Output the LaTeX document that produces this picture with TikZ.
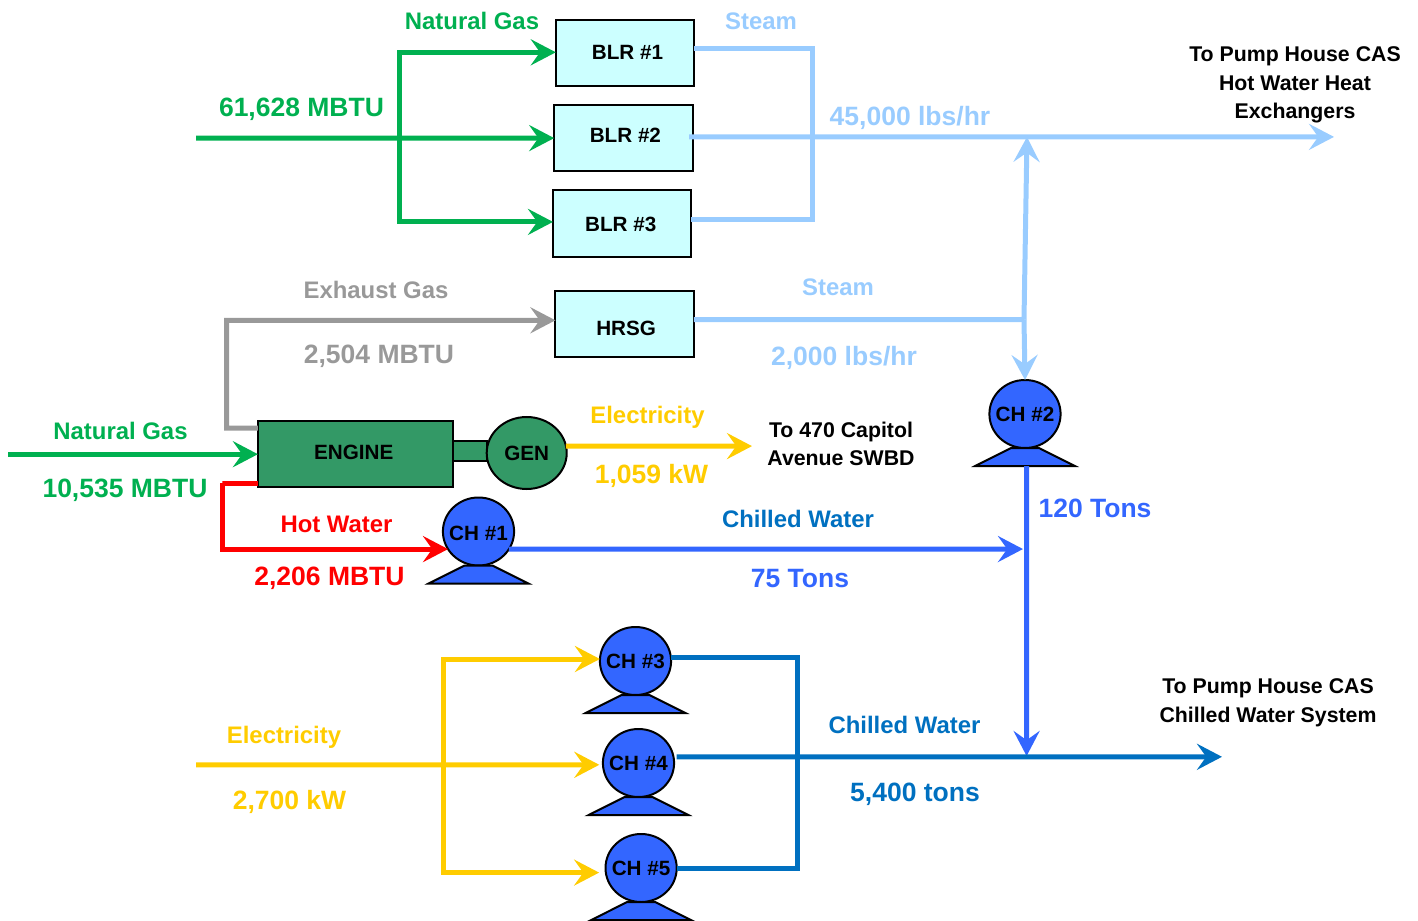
\documentclass[tikz,border=0pt]{standalone}
\usepackage{fontspec}
\setmainfont{Liberation Sans}
\usepackage{xcolor}
\usetikzlibrary{arrows.meta,positioning,shapes.geometric}
\definecolor{gasgreen}{HTML}{00B050}
\definecolor{steamblue}{HTML}{99CCFF}
\definecolor{exhgray}{HTML}{999999}
\definecolor{engfill}{HTML}{339966}
\definecolor{boxfill}{HTML}{CCFFFF}
\definecolor{chfill}{HTML}{3366FF}
\definecolor{chwdark}{HTML}{0070C0}
\definecolor{elecyellow}{HTML}{FFCC00}

\begin{document}
\begin{tikzpicture}[
  x=.25mm, y=-.25mm,
  box/.style={draw, line width=.5mm, fill=boxfill, outer sep=0pt, inner sep=0pt, minimum width=34.6mm, minimum height=16.6mm, font=\bfseries\fontsize{14.7}{16}\selectfont},
  engbox/.style={box, fill=engfill, minimum width=48.7mm},
  shaft/.style={draw, line width=.5mm, fill=engfill, outer sep=0pt, minimum width=8.5mm, minimum height=5mm},
  genball/.style={ellipse, draw, line width=.5mm, fill=engfill, outer sep=0pt, inner sep=0pt, minimum width=20mm, minimum height=18mm, font=\bfseries\fontsize{14.7}{16}\selectfont},
  chball/.style={ellipse, draw, line width=.5mm, fill=chfill, outer sep=0pt, inner sep=0pt, minimum width=17.8mm, minimum height=17mm, font=\bfseries\fontsize{14.7}{16}\selectfont},
  chbase/.style={trapezium, trapezium stretches=true, trapezium left angle=38, trapezium right angle=38, draw, line width=.5mm, fill=chfill, outer sep=0pt, inner sep=1pt, minimum width=24.9mm, minimum height=4.5mm},
  line/.style={line width=1.25mm},
  arr/.style={line, -{Stealth[length=6.25mm, width=6.5mm, inset=2.3mm]}},
  flow/.style={font=\bfseries\fontsize{17}{20}\selectfont},
  val/.style={font=\bfseries\fontsize{18.85}{22}\selectfont},
  dest/.style={align=center, font=\bfseries\fontsize{15.15}{20.4}\selectfont}
]
\useasboundingbox (0,0) rectangle (1418,921);

% Boilers and HRSG
\node[box] (blr1) at (625,53.3) {\hspace*{1.25mm}\raisebox{.5mm}{BLR \#1}};
\node[box, below=4.6mm of blr1, xshift=-.4mm] (blr2) {\hspace*{1mm}\raisebox{1.5mm}{BLR \#2}};
\node[box, below=4.75mm of blr2, xshift=-.3mm, text height=4.2mm] (blr3) {BLR \#3\hspace*{.75mm}};
\node[box, below=8.5mm of blr3, xshift=.6mm, text height=5.7mm] (hrsg) {\hspace*{.75mm}HRSG};

% Engine and generator
\node[engbox] (engine) at (355.3,454.2) {\raisebox{1mm}{ENGINE}\hspace*{.75mm}};
\node[shaft, right=0mm of engine, yshift=.8mm] (shaft) {};
\node[genball, right=0mm of shaft, yshift=-.5mm] (gen) {GEN};

% Chillers
\node[chball, text height=4.7mm] (ch1) at (478.5,531.5) {\makebox[0pt]{CH \#1}};
\node[chbase, below=0mm of ch1] (base1) {};
\node[chball] (ch2) at (1025,414) {\makebox[0pt]{CH \#2}};
\node[chbase, below=0mm of ch2] (base2) {};
\node[chball] (ch3) at (635.5,661) {\makebox[0pt]{CH \#3}};
\node[chbase, below=0mm of ch3] (base3) {};
\node[chball, below=8.5mm of ch3, xshift=.75mm] (ch4) {\makebox[0pt]{CH \#4}};
\node[chbase, below=0mm of ch4] (base4) {};
\node[chball, below=9.25mm of ch4, xshift=.65mm] (ch5) {\makebox[0pt]{CH \#5}};
\node[chbase, below=0mm of ch5] (base5) {};

% Free ends and junctions
\coordinate (gasin) at (196,138.1);
\coordinate (gasbus) at (399,138.1);
\coordinate (steambus) at (812,136.9);
\coordinate (steamout) at (1334,136.9);
\coordinate (steamjoin) at (1027,136.9);
\coordinate (steamtee) at (1024,319.5);
\coordinate (enggas) at (8,454.2);
\coordinate (exhcorner) at (226.5,320.3);
\coordinate (hotcorner) at (222.5,483);
\coordinate (swbd) at (752,446.1);
\coordinate (chwjoin) at (1023,549.05);
\coordinate (chwdrop) at (1026.6,756);
\coordinate (chwbus) at (797.5,756.8);
\coordinate (chwout) at (1222,756.8);
\coordinate (elecin) at (196,764.8);
\coordinate (elecbus) at (443,764.8);

% Natural gas
\draw[arr, gasgreen] (gasin) -- (blr2.west);
\draw[arr, gasgreen] (gasbus) |- ([yshift=.25mm]blr1.west);
\draw[arr, gasgreen] (gasbus) |- ([yshift=.4mm]blr3.west);
\draw[arr, gasgreen] (enggas) -- (engine.west);

% Steam
\draw[line, steamblue] ([yshift=1.1mm]blr1.east) -| (steambus) |- ([yshift=1mm]blr3.east);
\draw[arr, steamblue] ([xshift=-.9mm,yshift=.3mm]blr2.east) -- (steamout);
\draw[line, steamblue] ([yshift=1.1mm]hrsg.east) -- (steamtee);
\draw[arr, steamblue] (steamtee) -- (steamjoin);
\draw[arr, steamblue] (steamtee) -- (ch2.north);

% Exhaust and hot water
\draw[arr, exhgray] ([yshift=6.55mm]engine.west) -| (exhcorner) -- ([yshift=.9mm]hrsg.west);
\draw[arr, red] ([yshift=-7.2mm]engine.west) -| (hotcorner) |- (ch1.210);

% Electricity
\draw[arr, elecyellow] (gen.10) -- (swbd);
\draw[arr, elecyellow] (elecin) -- ([xshift=-.9mm,yshift=-.45mm]ch4.west);
\draw[arr, elecyellow] (elecbus) |- ([yshift=.5mm]ch3.west);
\draw[arr, elecyellow] (elecbus) |- ([xshift=-1.6mm,yshift=-1.15mm]ch5.west);

% Chilled water
\draw[arr, chfill] (ch1.330) -- (chwjoin);
\draw[arr, chfill] ([xshift=.4mm]base2.south) -- (chwdrop);
\draw[line, chwdark] (ch3.5) -| (chwbus) |- (ch5.east);
\draw[arr, chwdark] ([xshift=.75mm]ch4.10) -- (chwout);

% Labels
\node[flow, gasgreen] (gaslab) at (472,21) {Natural Gas};
\node[val, gasgreen] (gasval) at (301.5,109) {61,628 MBTU};
\node[flow, steamblue] (steamlab) at (761,21) {Steam};
\node[val, steamblue] (steamval) at (910,118) {45,000 lbs/hr};
\node[dest] (todest) at (1295,85) {To Pump House CAS\\Hot Water Heat\\Exchangers};
\node[flow, exhgray] (exhlab) at (376,290) {Exhaust Gas};
\node[val, exhgray] (exhval) at (379,356) {2,504 MBTU};
\node[flow, steamblue] (hrsglab) at (838,287) {Steam};
\node[val, steamblue] (hrsgval) at (844,358) {2,000 lbs/hr};
\node[flow, gasgreen] (enggaslab) at (120.5,431) {Natural Gas};
\node[val, gasgreen] (enggasval) at (125,490) {10,535 MBTU};
\node[flow, elecyellow] (genlab) at (647.5,417) {Electricity};
\node[val, elecyellow] (genval) at (651.5,476) {1,059 kW};
\node[dest] (swbdlab) at (841,444) {To 470 Capitol\\Avenue SWBD};
\node[flow, red] (hotlab) at (336.5,524) {Hot Water};
\node[val, red] (hotval) at (329.5,578) {2,206 MBTU};
\node[flow, chwdark] (chwlab) at (798,519) {Chilled Water};
\node[val, chfill] (chwval) at (800,579) {75 Tons};
\node[val, chfill] (ch2val) at (1095,508) {120 Tons};
\node[dest] (chwdest) at (1268,703) {To Pump House CAS\\Chilled Water System};
\node[flow, chwdark] (mainchw) at (904.5,725) {Chilled Water};
\node[val, chwdark] (mainval) at (915,794) {5,400 tons};
\node[flow, elecyellow] (eleclab) at (284,737) {Electricity};
\node[val, elecyellow] (elecval) at (289.5,802) {2,700 kW};
\end{tikzpicture}
\end{document}
